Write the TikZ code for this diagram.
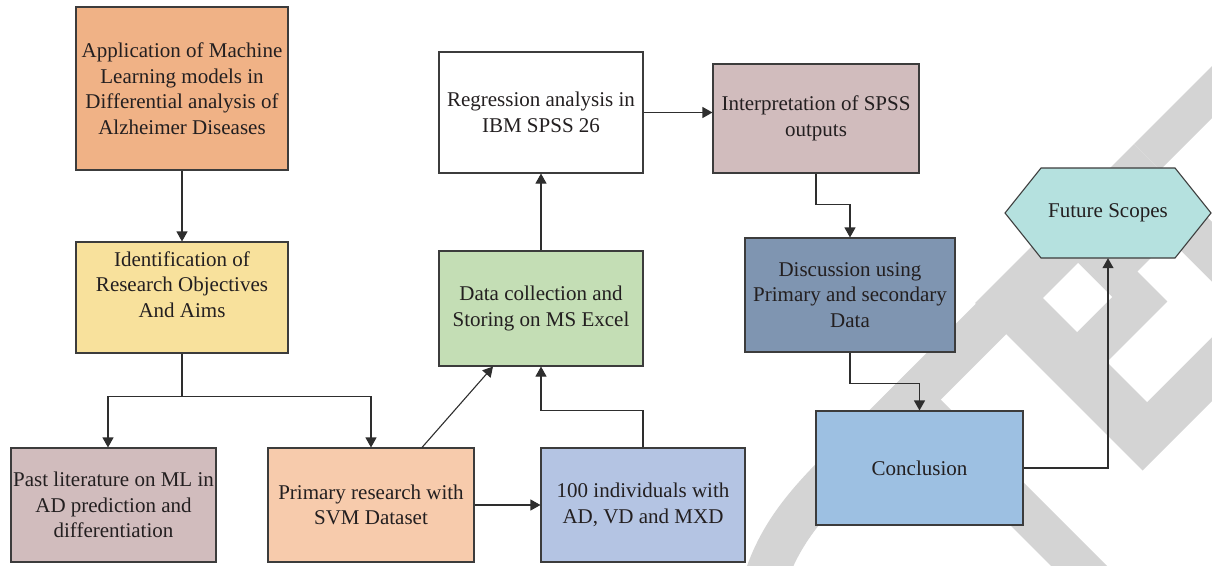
\documentclass[tikz,border=0pt]{standalone}
\usepackage{fontspec}
\setmainfont{Liberation Serif}
\usetikzlibrary{arrows.meta,calc}
\definecolor{wm}{HTML}{D4D4D4}
\definecolor{cApp}{HTML}{F0B286}
\definecolor{cIdent}{HTML}{F8E19C}
\definecolor{cPast}{HTML}{D1BCBD}
\definecolor{cPrim}{HTML}{F7CBAC}
\definecolor{cInd}{HTML}{B4C4E3}
\definecolor{cData}{HTML}{C4DEB5}
\definecolor{cInterp}{HTML}{D1BCBD}
\definecolor{cDisc}{HTML}{7F95B1}
\definecolor{cConcl}{HTML}{9DC0E2}
\definecolor{cFut}{HTML}{B5E1DF}
\definecolor{boxline}{HTML}{3C3C3C}
\definecolor{lnk}{HTML}{2E2E2E}
\definecolor{txt}{HTML}{231F20}
\newcommand\uvpoly[5]{\fill[#1] (#2,#4) -- (#3,#4) -- (#3,#5) -- (#2,#5) -- cycle;}
\begin{document}
\begin{tikzpicture}[x=1pt,y=-1pt,
  box/.style={draw=boxline, line width=1.1pt, inner sep=0pt, align=center,
    font=\fontsize{21}{25.5}\selectfont, text=txt},
  lbl/.style={inner sep=0pt, align=center, font=\fontsize{21}{25.5}\selectfont, text=txt},
  conn/.style={draw=lnk, line width=1.1pt},
  arr/.style={conn, -{Triangle[length=10pt,width=11pt]}},
]
\useasboundingbox (0,0) rectangle (1212,565);
% watermark
\begin{scope}
\clip (0,0) rectangle (1212,565);
\draw[wm, line width=43pt] (1000,310) -- (855,455) .. controls (815,495) and (778,530) .. (762,590);
\begin{scope}[x={(0.5pt,-0.5pt)}, y={(0.5pt,0.5pt)}]
  \uvpoly{wm}{1278}{1613}{672}{990}
  \uvpoly{wm}{1278}{1330}{990}{1200}
  \uvpoly{wm}{1280}{1760}{485}{541}
  \uvpoly{white}{1341}{1409}{745}{815}
  \fill[white] (1469,745) -- (1549,745) -- (1549,930) -- (1409,930) -- (1409,866) -- (1469,866) -- cycle;
\end{scope}
\end{scope}
% hexagon
\coordinate (futc) at (1108,213);
\filldraw[fill=cFut, draw=boxline, line width=1.1pt]
  ([xshift=-103pt]futc) -- ([xshift=-67pt,yshift=45pt]futc) -- ([xshift=67pt,yshift=45pt]futc)
  -- ([xshift=103pt]futc) -- ([xshift=67pt,yshift=-45pt]futc) -- ([xshift=-67pt,yshift=-45pt]futc) -- cycle;
\node[lbl, minimum width=206pt, minimum height=90pt] (fut) at (futc) {Future Scopes};
% boxes
\node[box, fill=cApp, minimum width=212pt, minimum height=163pt] (app) at (182,88.5)
  {Application of Machine\\Learning models in\\Differential analysis of\\Alzheimer Diseases};
\node[box, fill=cIdent, minimum width=212pt, minimum height=111pt,
  label={[lbl, yshift=13pt]center:Identification of\\Research Objectives\\And Aims}] (ident) at (182,297.5) {};
\node[box, fill=cPast, minimum width=205pt, minimum height=114pt] (past) at (113.5,505)
  {Past literature on ML in\\AD prediction and\\differentiation};
\node[box, fill=cPrim, minimum width=206pt, minimum height=114pt] (prim) at (371,505)
  {Primary research with\\SVM Dataset};
\node[box, fill=cInd, minimum width=204pt, minimum height=114pt] (ind) at (643,505)
  {100 individuals with\\AD, VD and MXD};
\node[box, fill=cData, minimum width=204pt, minimum height=115pt] (data) at (541,308.5)
  {Data collection and\\Storing on MS Excel};
\node[box, fill=white, minimum width=204pt, minimum height=121pt] (reg) at (541,112.5)
  {Regression analysis in\\IBM SPSS 26};
\node[box, fill=cInterp, minimum width=206pt, minimum height=109pt] (interp) at (816,118.5)
  {Interpretation of SPSS\\outputs};
\node[box, fill=cDisc, minimum width=210pt, minimum height=114pt] (disc) at (850,295)
  {Discussion using\\Primary and secondary\\Data};
\node[box, fill=cConcl, minimum width=207pt, minimum height=114pt] (concl) at (919.5,468)
  {Conclusion};
% connectors
\draw[arr] (app) -- (ident);
\coordinate (split) at ([yshift=-43pt]ident.south);
\draw[conn] (ident.south) -- (split);
\draw[arr] (split) -| ([xshift=-5.5pt]past.north);
\draw[arr] (split) -| (prim.north);
\draw[arr] (prim.east) -- (ind.west);
\draw[arr] ([xshift=51pt]prim.north) -- ([xshift=-48pt]data.south);
\draw[arr] (ind.north) -- ++(0,-37) -| (data.south);
\draw[arr] (data) -- (reg);
\draw[arr] (reg.east) -- (reg.east -| interp.west);
\draw[arr] (interp.south) -- ++(0,31) -| (disc.north);
\draw[arr] (disc.south) -- ++(0,31) -| (concl.north);
\draw[arr] (concl.east) -| (fut.south);
\end{tikzpicture}
\end{document}
